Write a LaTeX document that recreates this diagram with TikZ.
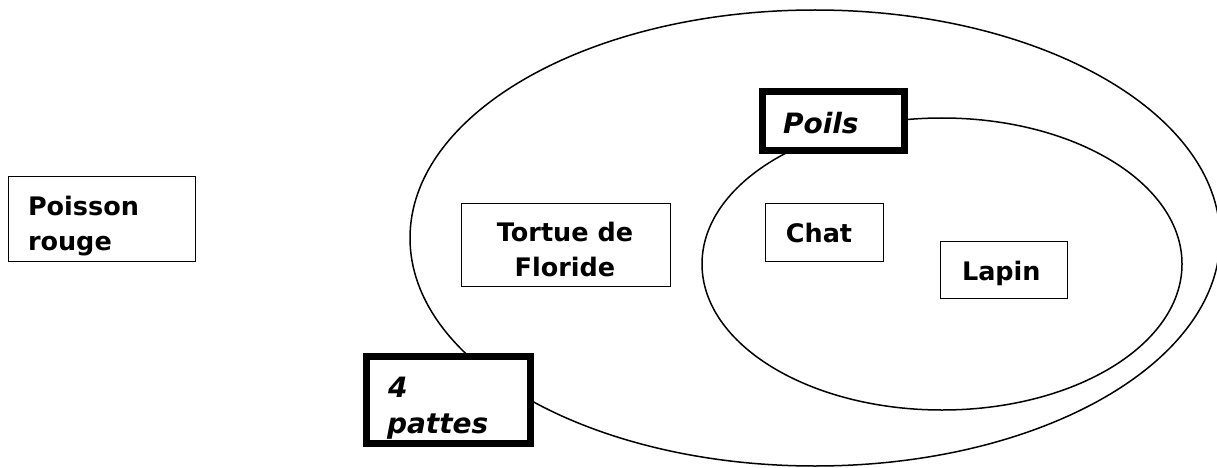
\documentclass[tikz,border=0pt]{standalone}
\usepackage{fontspec}
\setmainfont{DejaVu Sans}
\begin{document}
\begin{tikzpicture}[x=1pt,y=-1pt,
  box/.style={draw=black,fill=white,line width=1.5pt,inner sep=0pt,outer sep=0pt,rectangle},
  thickbox/.style={box,line width=7pt},
  lbl/.style={inner sep=0pt,outer sep=0pt,font=\bfseries\fontsize{25.5}{35}\selectfont},
  ilbl/.style={inner sep=0pt,outer sep=0pt,font=\bfseries\itshape\fontsize{28}{36}\selectfont},
  set/.style={draw=black,line width=1.5pt}]
\useasboundingbox (0,0) rectangle (1217,468);
% sets
\draw[set] (815,238) ellipse [x radius=405, y radius=228];
\draw[set] (942,264) ellipse [x radius=240, y radius=146];
% boxes
\node[box,minimum width=187pt,minimum height=85pt] (poisson) at (102,219) {};
\node[box,minimum width=209pt,minimum height=83pt] (tortue) at (566,245) {};
\node[box,minimum width=118pt,minimum height=58pt] (chat) at (824.5,232.5) {};
\node[box,minimum width=127pt,minimum height=57pt] (lapin) at (1004,270) {};
\node[thickbox,minimum width=142pt,minimum height=59pt] (poils) at (833.5,121) {};
\node[thickbox,minimum width=164pt,minimum height=87pt] (pattes) at (448.5,400) {};
% texts
\node[lbl,anchor=base west] (t1a) at (28,215) {Poisson};
\node[lbl,anchor=base west] (t1b) at (28,250) {rouge};
\node[lbl,anchor=base] (t2a) at (565,241) {Tortue de};
\node[lbl,anchor=base] (t2b) at (565,276) {Floride};
\node[lbl,anchor=base] (t3) at (819,242) {Chat};
\node[lbl,anchor=base west] (t4) at (962,280) {Lapin};
\node[ilbl,anchor=base west] (t5) at (783,133) {Poils};
\node[ilbl,anchor=base west] (t6a) at (388,397) {4};
\node[ilbl,anchor=base west] (t6b) at (387,433) {pattes};
\end{tikzpicture}
\end{document}
